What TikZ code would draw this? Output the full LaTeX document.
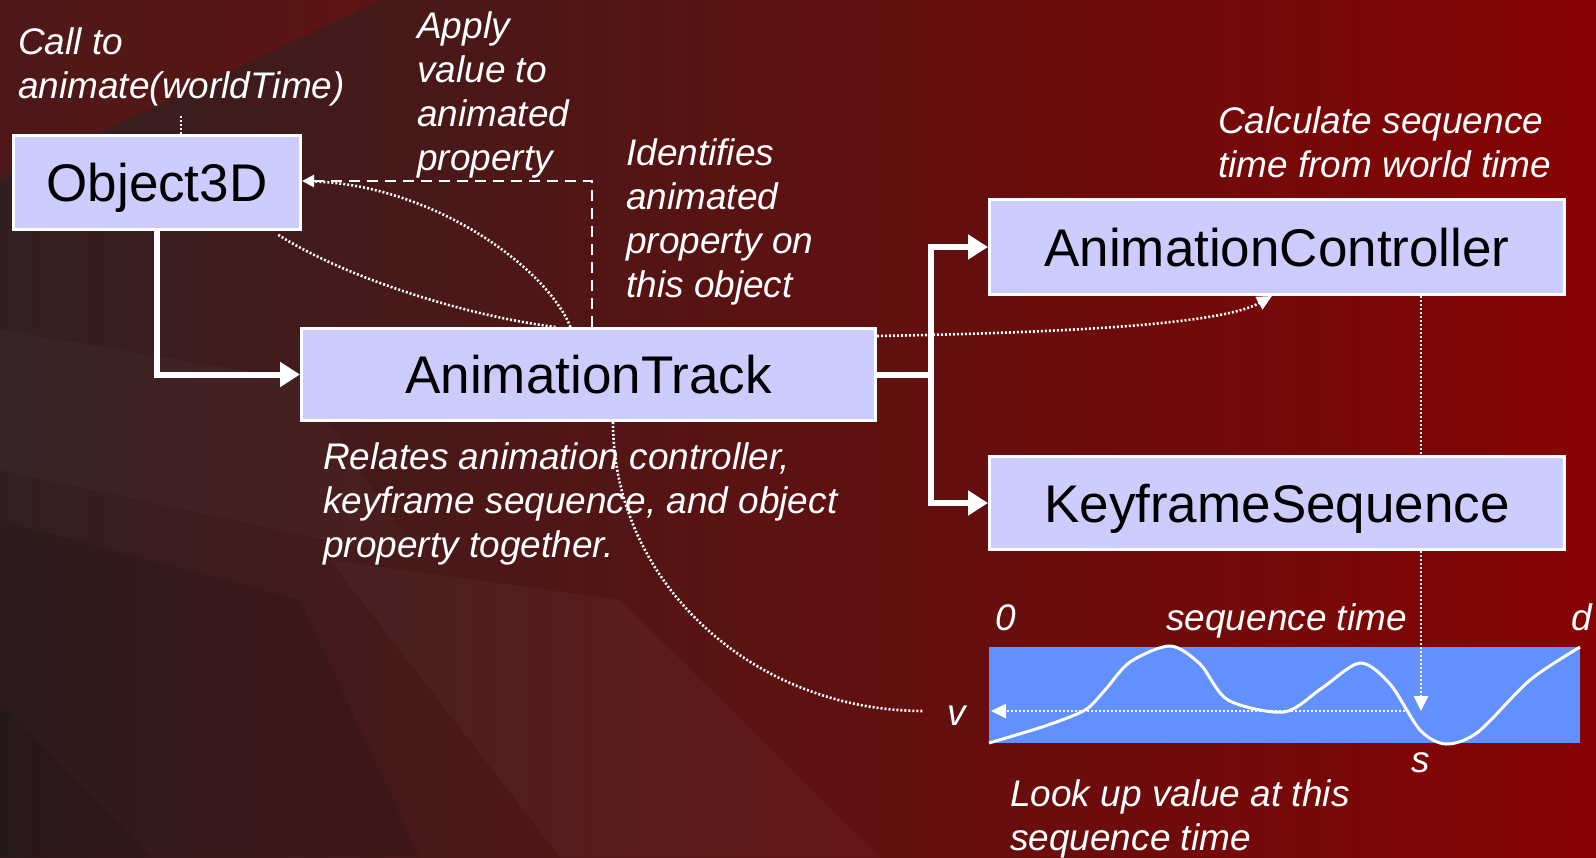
\documentclass[tikz,border=0pt]{standalone}
\usepackage{fontspec}
\setmainfont{Liberation Sans}
\usetikzlibrary{arrows.meta}
\definecolor{boxfill}{RGB}{204,204,255}
\definecolor{chartblue}{RGB}{98,144,255}
\definecolor{bgL}{RGB}{50,32,32}
\definecolor{bgM}{RGB}{86,16,16}
\definecolor{bgR}{RGB}{135,3,3}
\newcommand\boxfont{\fontsize{53}{60}\selectfont}
\newcommand\lblfont{\fontsize{37}{44}\selectfont\itshape}
\newcommand\ml[1]{\begin{tabular}[t]{@{}l@{}}#1\end{tabular}}
\tikzset{
  box/.style={draw=white, line width=3pt, fill=boxfill, text=black, font=\boxfont, inner sep=0pt, text height=38pt, text depth=0pt},
  lbl/.style={text=white, font=\lblfont, inner sep=0pt, anchor=base west},
  thickline/.style={draw=white, line width=6pt},
  thickarrow/.style={thickline, -{Triangle[length=20pt,width=24pt]}},
  dashline/.style={draw=white, line width=2.5pt, dash pattern=on 11pt off 7pt, -{Triangle[length=12pt,width=12pt]}},
  dotline/.style={draw=white, line width=2.6pt, dash pattern=on 2pt off 2pt},
  dotarrow/.style={dotline, -{Triangle[length=15pt,width=14pt]}},
}
\begin{document}
\begin{tikzpicture}[x=1pt, y=-1pt]
\useasboundingbox (0,0) rectangle (1596,857);
% background
\shade[left color=bgL, middle color=bgM, right color=bgR] (0,0) rectangle (1596,857);
\fill[red!70!black, opacity=0.22] (0,0) -- (380,0) -- (0,180) -- cycle;
\fill[white, opacity=0.025] (0,330) -- (300,380) -- (420,560) -- (0,470) -- cycle;
\fill[white, opacity=0.03] (330,560) -- (620,600) -- (880,857) -- (560,857) -- cycle;
\fill[black, opacity=0.1] (0,520) -- (300,600) -- (420,857) -- (0,857) -- cycle;
\fill[black, opacity=0.08] (0,700) -- (150,857) -- (0,857) -- cycle;

% boxes
\node[box, minimum width=287pt, minimum height=94pt] (obj) at (157,182.5) {Object3D};
\node[box, minimum width=574pt, minimum height=92pt] (track) at (588.5,374.5) {AnimationTrack};
\node[box, minimum width=575pt, minimum height=95pt] (ctrl) at (1277,247) {AnimationController};
\node[box, minimum width=575pt, minimum height=93pt] (seq) at (1277,503) {KeyframeSequence};
\node[fill=chartblue, inner sep=0pt, minimum width=591pt, minimum height=96pt] (chart) at (1284.5,695) {};

% wave
\draw[white, line width=3pt, line join=round] plot[smooth, tension=0.5] coordinates {
  (989,743) (1045,726) (1085,710) (1105,690) (1130,662) (1170,646) (1200,664) (1228,700)
  (1284,712) (1322,688) (1360,663) (1390,684) (1420,730) (1446,744) (1478,732)
  (1530,680) (1580,647)};

% labels
\node[lbl] (call) at (18,54) {\ml{Call to\\animate(worldTime)}};
\node[lbl] (apply) at (417,38) {\ml{Apply\\value to\\animated\\property}};
\node[lbl] (ident) at (626,165) {\ml{Identifies\\animated\\property on\\this object}};
\node[lbl] (calc) at (1218,133) {\ml{Calculate sequence\\time from world time}};
\node[lbl] (rel) at (323,469) {\ml{Relates animation controller,\\keyframe sequence, and object\\property together.}};
\node[lbl] (look) at (1010,806) {\ml{Look up value at this\\sequence time}};
\node[lbl] (zero) at (995,630) {0};
\node[lbl] (stime) at (1166,630) {sequence time};
\node[lbl] (dlbl) at (1571,630) {d};
\node[lbl] (vlbl) at (947,725) {v};
\node[lbl] (slbl) at (1411,772) {s};

% thick connectors
\coordinate (fork) at (931,374.5);
\draw[thickarrow] (obj.south) |- (track.west);
\draw[thickline] (track.east) -- (fork);
\draw[thickarrow] ([yshift=-3pt]fork) |- (ctrl.west);
\draw[thickarrow] ([yshift=3pt]fork) |- (seq.west);

% dashed
\draw[dashline] ([xshift=3.5pt]track.north) |- ([yshift=1.5pt]obj.east);

% dotted
\coordinate (callfoot) at (181,116);
\draw[dotline] (callfoot) -- (callfoot |- obj.north);
\draw[dotline] ([xshift=-18pt]track.north) .. controls (545,265) and (430,185) .. ([xshift=12pt,yshift=1pt]obj.east);
\draw[dotline] ([xshift=-33pt]track.north) .. controls (460,315) and (340,275) .. ([xshift=-25pt,yshift=-3pt]obj.south east);
\draw[dotarrow] ([yshift=-9pt]track.north east) .. controls (1100,332) and (1225,322) .. ([xshift=-5pt]ctrl.south);
\draw[dotline] ([xshift=144pt]ctrl.south) -- ([xshift=144pt]seq.north);
\coordinate (sdown) at (1421,711);
\draw[dotarrow] ([xshift=144pt]seq.south) -- (sdown);
\coordinate (vstart) at (1405,711);
\coordinate (vend) at (991,711);
\draw[dotarrow] (vstart) -- (vend);
\coordinate (vleft) at (924,711);
\draw[dotline] ([xshift=24.5pt]track.south) .. controls (613,582) and (752,711) .. (vleft);
\end{tikzpicture}
\end{document}
